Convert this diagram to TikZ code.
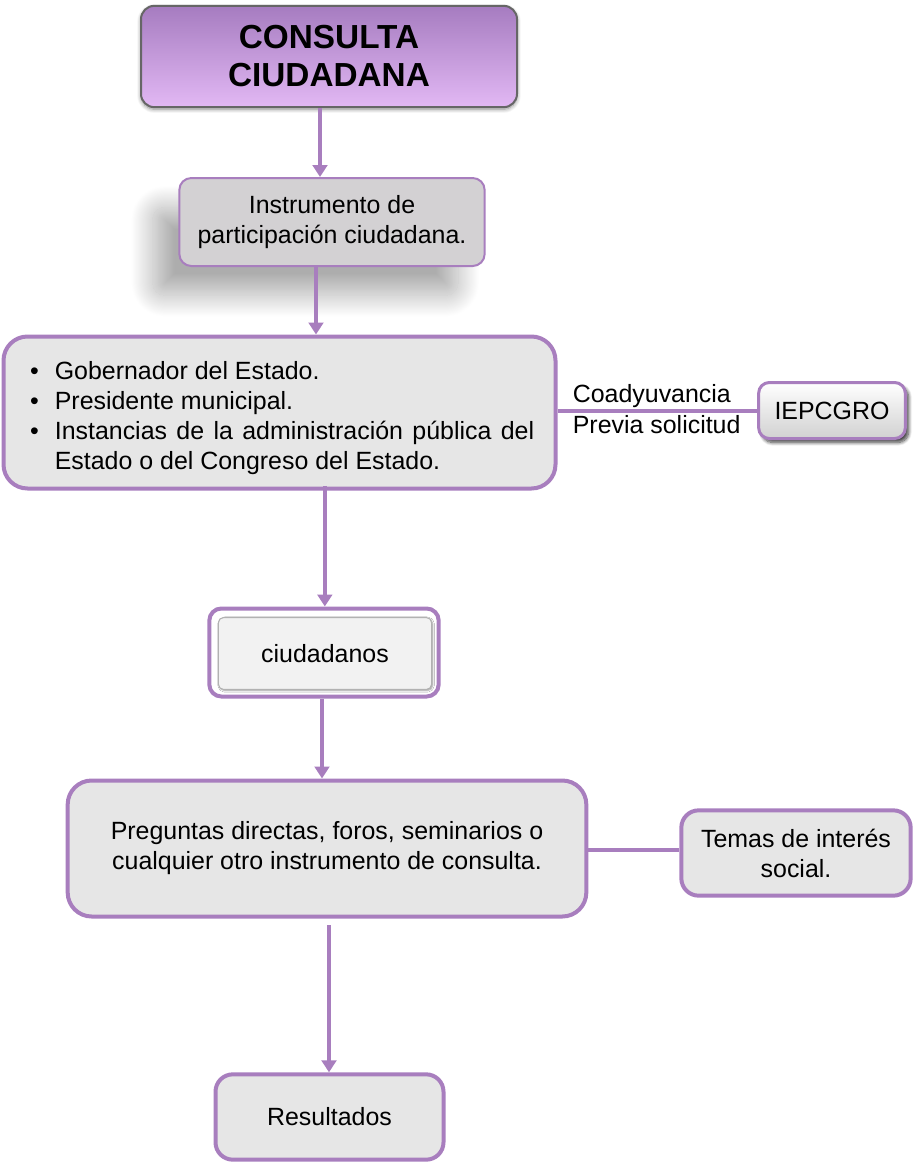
\documentclass[tikz,border=0pt]{standalone}
\usepackage{fontspec}
\setmainfont{Liberation Sans}
\usepackage{tikz}
\usetikzlibrary{shadows,shadows.blur,arrows.meta,shapes,positioning}
\definecolor{lila}{RGB}{168,126,190}
\definecolor{lilatop}{RGB}{166,124,192}
\definecolor{lilamid}{RGB}{180,140,204}
\definecolor{lilabot}{RGB}{226,184,244}
\definecolor{grisbox}{RGB}{230,230,230}
\definecolor{grisinst}{RGB}{211,209,211}
\tikzset{
  caja/.style={draw=lila, line width=3pt, fill=grisbox, align=center, font=\fontsize{18.7}{22.5}\selectfont},
  flecha/.style={draw=lila, line width=3pt, -{Triangle[width=11pt,length=9pt]}},
  enlace/.style={draw=lila, line width=3pt},
}

\begin{document}
\begin{tikzpicture}[x=0.75pt, y=-0.75pt]
        \useasboundingbox (0,0) rectangle (914,1164);
        % Title and first step
        \node[draw=black!60, line width=1.5pt, rounded corners=10pt, top color=lilatop, middle color=lilamid, bottom color=lilabot, minimum width=282pt, minimum height=76pt, align=center, font=\fontsize{25}{28.5}\selectfont\bfseries, blur shadow={shadow xshift=0pt, shadow yshift=-1.5pt, shadow blur radius=3pt, shadow blur steps=12, shadow opacity=45}] (titulo) at (329,56.5) {CONSULTA\\CIUDADANA};
        \node[caja, draw=lila, line width=1.5pt, fill=grisinst, rounded corners=9pt, minimum width=229pt, minimum height=66pt, blur shadow={shadow xshift=-20pt, shadow yshift=-22pt, shadow blur radius=16pt, shadow blur steps=40, shadow opacity=32}] (instrumento) at (332,222) {Instrumento de\\participación ciudadana.};

        % Who can call it
        \node[caja, rounded corners=18pt, minimum width=414pt, minimum height=114pt, text width=382pt, align=justify] (gobierno) at (279.5,412.5) {%
            \begin{list}{\textbullet}{\setlength{\leftmargin}{22.5pt}\setlength{\labelwidth}{10pt}\setlength{\labelsep}{12pt}\setlength{\itemsep}{0pt}\setlength{\parsep}{0pt}\setlength{\topsep}{0pt}\setlength{\partopsep}{0pt}}
            \item Gobernador del Estado.
            \item Presidente municipal.
            \item Instancias de la administración pública del\linebreak Estado o del Congreso del Estado.
            \end{list}};
        \node[caja, line width=2.25pt, top color=white, bottom color=black!18, rounded corners=8pt, minimum width=110pt, minimum height=42pt, blur shadow={shadow xshift=2.5pt, shadow yshift=-3pt, shadow blur radius=2.5pt, shadow blur steps=10, shadow opacity=75}] (iepc) at (832,410.5) {IEPCGRO};

        % Citizens
        \node[draw=lila, line width=3pt, fill=white, rounded corners=9pt, minimum width=172pt, minimum height=66pt] (ciudadanos) at (324,652.5) {};
        \node[draw=black!30, line width=0.8pt, fill=black!5, rounded corners=4pt, minimum width=160pt, minimum height=54pt, font=\fontsize{18.7}{22.5}\selectfont, blur shadow={shadow xshift=0.8pt, shadow yshift=-0.8pt, shadow blur radius=1.2pt, shadow opacity=40}] (ciudadanosin) at (325,653.5) {ciudadanos};

        % Instruments, topics and results
        \node[caja, rounded corners=18pt, minimum width=389pt, minimum height=102pt] (preguntas) at (327,848.5) {Preguntas directas, foros, seminarios o\\cualquier otro instrumento de consulta.};
        \node[caja, rounded corners=13pt, minimum width=172pt, minimum height=64pt] (temas) at (796,853) {Temas de interés\\social.};
        \node[caja, rounded corners=13pt, minimum width=171pt, minimum height=64pt] (resultados) at (329.5,1117) {Resultados};

        % Connectors
        \draw[flecha] ([xshift=-6.75pt]titulo.south) -- ([xshift=-6.75pt]titulo.south |- instrumento.north);
        \draw[flecha] ([xshift=-12pt]instrumento.south) -- ([xshift=-12pt]instrumento.south |- gobierno.north);
        \draw[flecha] ([xshift=34pt,yshift=3.5pt]gobierno.south) -- ([xshift=34pt]gobierno.south |- ciudadanos.north);
        \draw[flecha] ([xshift=-1.5pt]ciudadanos.south) -- ([xshift=-1.5pt]ciudadanos.south |- preguntas.north);
        \draw[flecha] ([xshift=1.5pt,yshift=-5pt]preguntas.south) -- ([xshift=1.5pt]preguntas.south |- resultados.north);
        \draw[enlace] (iepc.west -| gobierno.east) -- node[pos=0, anchor=south west, xshift=8pt, inner xsep=2pt, inner ysep=0.5pt, font=\fontsize{18.7}{22.5}\selectfont] {Coadyuvancia} node[pos=0, anchor=north west, xshift=8pt, inner xsep=2pt, inner ysep=2pt, font=\fontsize{18.7}{22.5}\selectfont] {Previa solicitud} (iepc.west);
        \draw[enlace] (preguntas.east |- 0,850) -- (temas.west |- 0,850);
    \end{tikzpicture}
\end{document}
